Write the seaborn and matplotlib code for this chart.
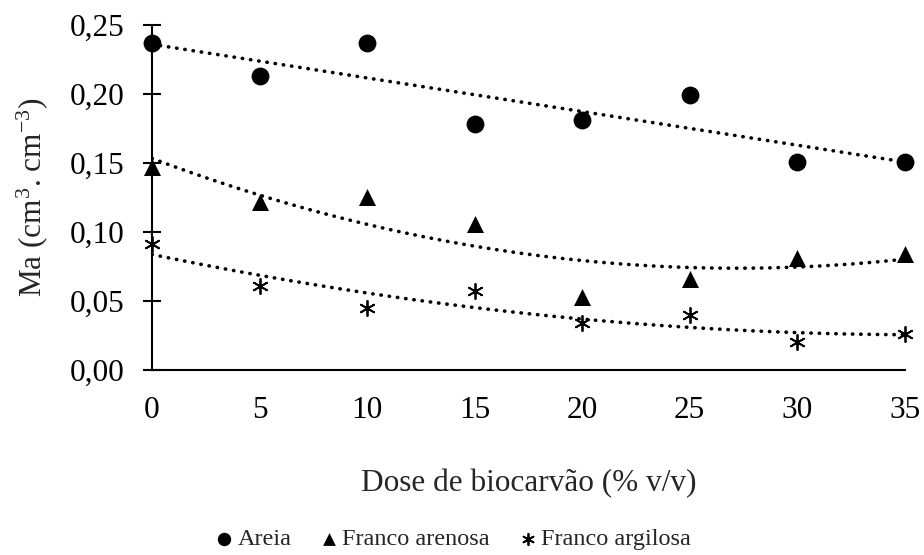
import numpy as np
import pandas as pd
import matplotlib
matplotlib.use("Agg")
import matplotlib.pyplot as plt
import seaborn as sns
from matplotlib.ticker import FuncFormatter

# Data
doses = [0, 5, 10, 15, 20, 25, 30, 35]
areia = [0.237, 0.213, 0.237, 0.178, 0.181, 0.199, 0.151, 0.151]
franco_arenosa = [0.147, 0.122, 0.125, 0.106, 0.053, 0.066, 0.081, 0.084]
franco_argilosa = [0.091, 0.061, 0.045, 0.057, 0.034, 0.040, 0.020, 0.026]
series_names = ["Areia", "Franco arenosa", "Franco argilosa"]
y_ticks = [0.00, 0.05, 0.10, 0.15, 0.20, 0.25]
x_ticks = [0, 5, 10, 15, 20, 25, 30, 35]

sns.set_style("white")
plt.rcParams["font.family"] = ["Liberation Serif", "DejaVu Serif"]
plt.rcParams["mathtext.fontset"] = "custom"
plt.rcParams["mathtext.rm"] = "Liberation Serif"
plt.rcParams["mathtext.it"] = "Liberation Serif:italic"
plt.rcParams["mathtext.default"] = "rm"

FS = 22.5

fig = plt.figure(figsize=(9.24, 5.55), dpi=100)
ax = fig.add_axes([0.1645, 0.3333, 0.8145, 0.6217])

styles = [
    (areia, "o", 1, 165),
    (franco_arenosa, "^", 2, 150),
    (franco_argilosa, (6, 2, 0), 2, 120),
]
dot_style = dict(color="black", lw=2.6, linestyle=(0, (0.1, 2.2)),
                 dash_capstyle="round")

for name, (vals, marker, order, size) in zip(series_names, styles):
    df = pd.DataFrame({"dose": doses, "ma": vals})
    # trend line (linear for Areia, quadratic for the others)
    sns.regplot(data=df, x="dose", y="ma", order=order, ci=None, scatter=False,
                ax=ax, line_kws=dot_style)
    sns.scatterplot(data=df, x="dose", y="ma", marker=marker, s=size,
                    color="black", edgecolor="black",
                    linewidth=1.3 if not isinstance(marker, str) else 0,
                    ax=ax, label=name, clip_on=False, zorder=5)

ax.set_xlim(0, 35)
ax.set_ylim(0, 0.25)
ax.set_xticks(x_ticks)
ax.set_yticks(y_ticks)
ax.yaxis.set_major_formatter(FuncFormatter(lambda v, p: f"{v:.2f}".replace(".", ",")))
ax.tick_params(axis="y", direction="inout", length=13.5, width=1.5, pad=13,
               labelsize=FS, colors="black", left=True)
ax.tick_params(axis="x", length=0, pad=19, labelsize=FS, colors="black")

sns.despine(ax=ax)
for sp in ["left", "bottom"]:
    ax.spines[sp].set_color("black")
    ax.spines[sp].set_linewidth(1.5)

ax.set_xlabel("Dose de biocarvão (% v/v)", fontsize=FS, labelpad=31)
ax.set_ylabel("Ma (cm$^{3}$. cm$^{-3}$)", fontsize=FS, labelpad=14)

handles, labels = ax.get_legend_handles_labels()
ax.get_legend().remove()
fig.legend(handles, labels, loc="center", bbox_to_anchor=(452 / 924, 1 - 539 / 555),
           ncol=3, frameon=False, fontsize=17.5, markerscale=0.75,
           handletextpad=0.1, columnspacing=1.1, handlelength=0.9,
           borderpad=0, borderaxespad=0)

fig.savefig("out.png", dpi=100)
